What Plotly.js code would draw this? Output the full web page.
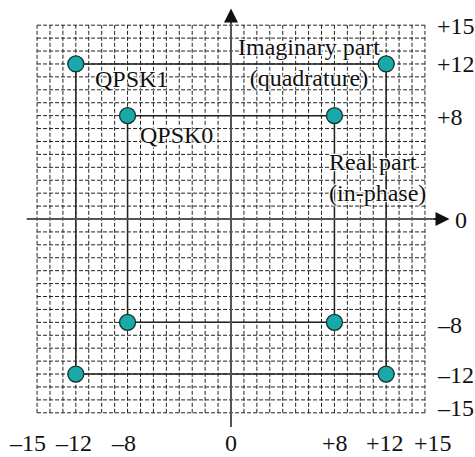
<!DOCTYPE html>
<html>
<head>
<meta charset="utf-8">
<script src="https://cdn.plot.ly/plotly-3.0.1.min.js"></script>
<style>html,body{margin:0;padding:0;background:#fff;}#chart{width:475px;height:457px;}</style>
</head>
<body>
<div id="chart"></div>
<script>
// Constellation points (in-phase I, quadrature Q)
const qpsk1I = [-12, 12, 12, -12];
const qpsk1Q = [12, 12, -12, -12];
const qpsk0I = [-8, 8, 8, -8];
const qpsk0Q = [8, 8, -8, -8];

// Tick labels
const xTickVals = [-15, -12, -8, 0, 8, 12, 15];
const xTickText = ['–15', '–12', '–8', '0', '+8', '+12', '+15'];
const yTickVals = [15, 12, 8, 0, -8, -12, -15];
const yTickText = ['+15', '+12', '+8', '0', '–8', '–12', '–15'];

// Grid extent
const gridMin = -15, gridMax = 15;

const FONT = 'Liberation Serif';
const FS = 24;
const halo = '1px 1px 1px #fff, -1px -1px 1px #fff, 1px -1px 1px #fff, -1px 1px 1px #fff, 0 0 3px #fff';

const pxPerUnitX = 12.93, pxPerUnitY = 12.92;
const originX = 231, originY = 219, W = 475, H = 457;

const shapes = [];
for (let v = gridMin; v <= gridMax; v++) {
  shapes.push({type:'line', xref:'x', yref:'y', x0:v, x1:v, y0:gridMin, y1:gridMax,
    line:{color:'#222', width:1, dash:'4px,2px'}, layer:'below'});
  shapes.push({type:'line', xref:'x', yref:'y', x0:gridMin, x1:gridMax, y0:v, y1:v,
    line:{color:'#222', width:1, dash:'4px,2px'}, layer:'below'});
}
// axes
shapes.push({type:'line', xref:'x', yref:'y', x0:-15.8, x1:16.0, y0:0, y1:0, line:{color:'#555', width:2}});
shapes.push({type:'line', xref:'x', yref:'y', x0:0, x1:0, y0:-16.1, y1:15.5, line:{color:'#555', width:2}});

function closed(a){ return a.concat([a[0]]); }

const traces = [
  {x: closed(qpsk1I), y: closed(qpsk1Q), mode:'lines', line:{color:'#222', width:1.5}, hoverinfo:'skip'},
  {x: closed(qpsk0I), y: closed(qpsk0Q), mode:'lines', line:{color:'#222', width:1.5}, hoverinfo:'skip'},
  {x: qpsk1I.concat(qpsk0I), y: qpsk1Q.concat(qpsk0Q), mode:'markers',
   marker:{size:16, color:'#17aaa8', line:{color:'#1c2f2f', width:1.3}}, hoverinfo:'skip'}
];

const annotations = [];
const tf = {family: FONT, size: FS, color:'#111', shadow: halo};
const plain = {family: FONT, size: FS, color:'#111'};
const xShift = {'-15':-10, '-12':-2, '-8':-4, '0':0, '8':1, '12':-1, '15':8};
xTickVals.forEach((v,i)=>{
  annotations.push({x:v, y:0, xref:'x', yref:'y', yshift:-(443-originY), xshift:xShift[String(v)],
    text:xTickText[i], showarrow:false, font:plain, xanchor:'center', yanchor:'middle'});
});
const yShift = {'15':-1, '12':0, '8':-1, '0':-1, '-8':-3, '-12':-1, '-15':5};
yTickVals.forEach((v,i)=>{
  annotations.push({x: v===0 ? 17.2 : 15.8, y:v, xref:'x', yref:'y', yshift:yShift[String(v)],
    text:yTickText[i], showarrow:false, font:plain, xanchor:'left', yanchor:'middle'});
});
// labels
annotations.push({x:-7.7, y:10.8, xref:'x', yref:'y', text:'QPSK1', showarrow:false, font:tf, xanchor:'center', yanchor:'middle'});
annotations.push({x:-4.2, y:6.5, xref:'x', yref:'y', text:'QPSK0', showarrow:false, font:tf, xanchor:'center', yanchor:'middle'});
annotations.push({x:6.05, y:12.1, xref:'x', yref:'y', text:'Imaginary part<br>(quadrature)', showarrow:false, font:tf, xanchor:'center', yanchor:'middle', align:'center'});
annotations.push({x:7.4, y:3.25, xref:'x', yref:'y', text:'Real part<br>(in-phase)', showarrow:false, font:tf, xanchor:'left', yanchor:'middle', align:'left'});
// arrowheads
annotations.push({x:16.9, y:0, ax:15.6, ay:0, axref:'x', ayref:'y', xref:'x', yref:'y', text:'', showarrow:true,
  arrowhead:2, arrowsize:1.4, arrowwidth:2, arrowcolor:'#111'});
annotations.push({x:0, y:16.3, ax:0, ay:15.1, axref:'x', ayref:'y', xref:'x', yref:'y', text:'', showarrow:true,
  arrowhead:2, arrowsize:1.4, arrowwidth:2, arrowcolor:'#111'});

const layout = {
  width: W, height: H, autosize:false,
  margin:{l:0, r:0, t:0, b:0, pad:0},
  paper_bgcolor:'#fff', plot_bgcolor:'#fff',
  showlegend:false,
  font:{family:FONT},
  xaxis:{range:[-originX/pxPerUnitX, (W-originX)/pxPerUnitX], visible:false, fixedrange:true},
  yaxis:{range:[-(H-originY)/pxPerUnitY, originY/pxPerUnitY], visible:false, fixedrange:true},
  shapes: shapes,
  annotations: annotations
};

Plotly.newPlot('chart', traces, layout, {staticPlot:true, displayModeBar:false});
</script>
</body>
</html>
